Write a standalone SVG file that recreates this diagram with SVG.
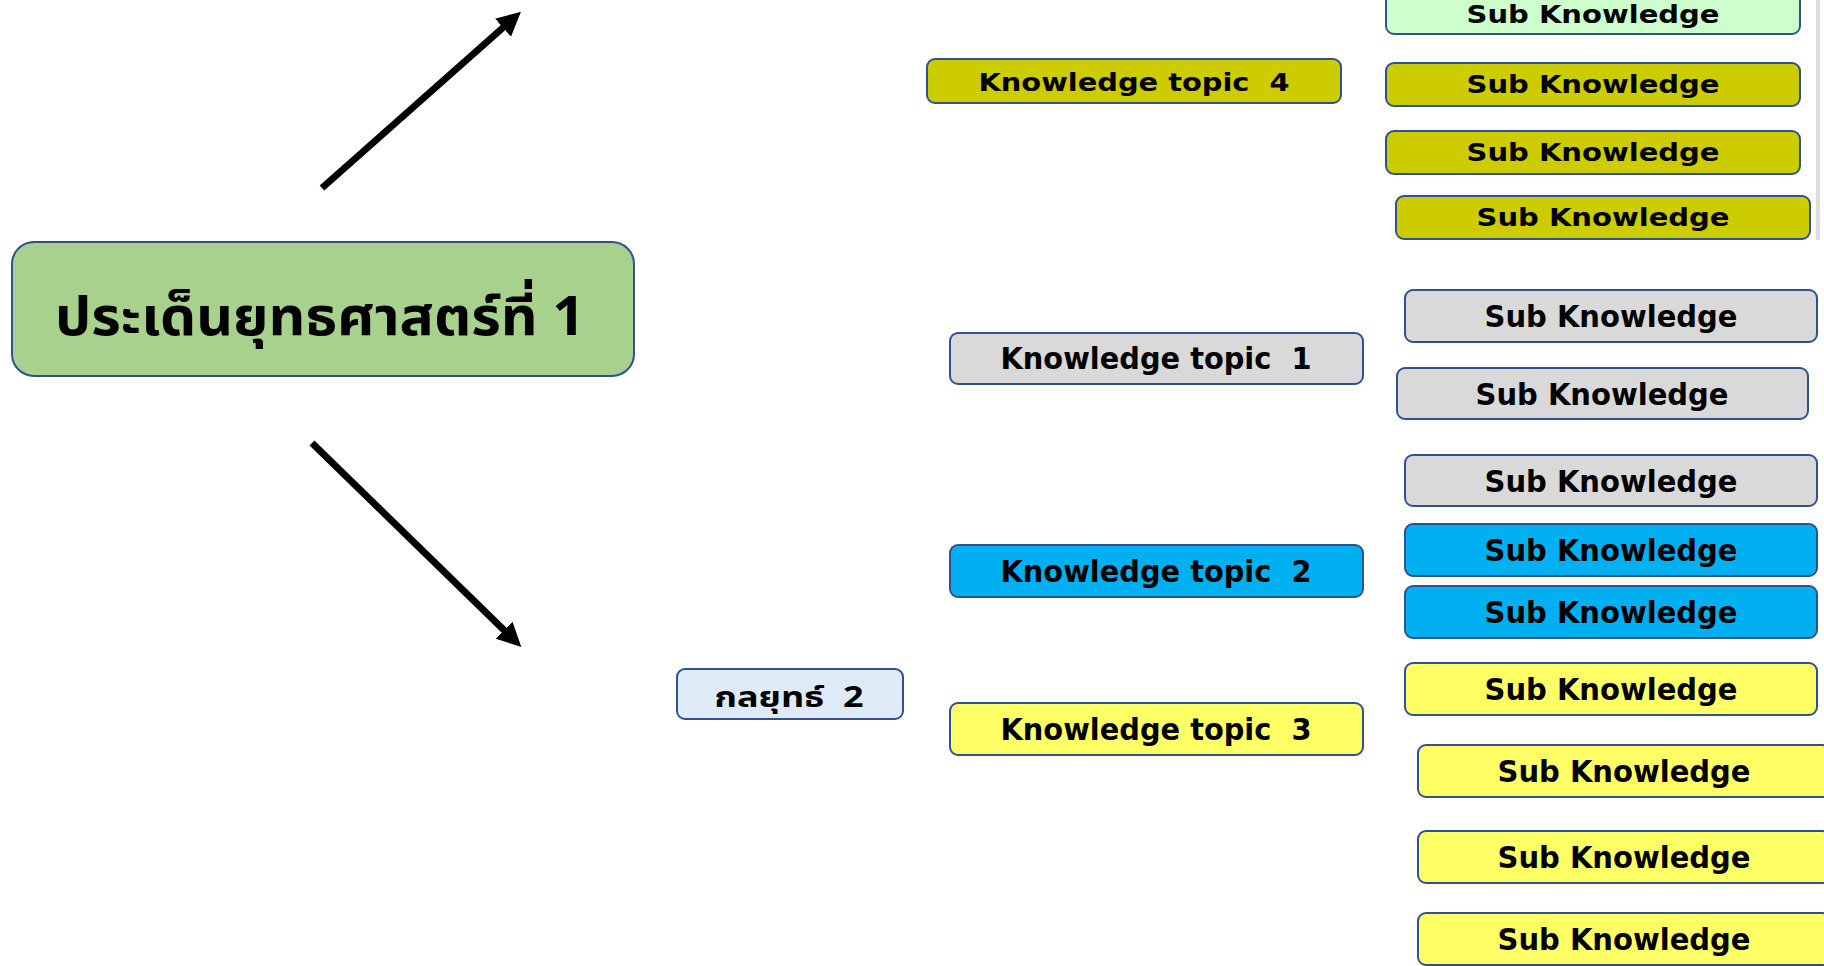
<svg xmlns="http://www.w3.org/2000/svg" width="1824" height="966" viewBox="0 0 1824 966">
  <defs>
    <marker id="head" markerUnits="userSpaceOnUse" markerWidth="30" markerHeight="30" refX="4" refY="12" orient="auto">
      <path d="M0,0 L24,12 L0,24 Z" fill="#000"/>
    </marker>
    <style>
      .box { stroke: #2F528F; stroke-width: 2; }
      .main { fill: #A9D18E; }
      .strat { fill: #DEEBF7; }
      .gray { fill: #D9D9D9; }
      .blue { fill: #00B0F0; }
      .yellow { fill: #FFFF66; }
      .olive { fill: #CCCC00; }
      .mint { fill: #CCFFCC; }
      text { font-family: "DejaVu Sans", "Liberation Sans", sans-serif; font-weight: bold; fill: #000; text-anchor: middle; white-space: pre; }
      .th { font-family: "Noto Sans Thai", "Noto Sans", "DejaVu Sans", sans-serif; }
      .t30 { font-size: 30px; }
      .t24 { font-size: 24px; }
      .conn { stroke: #000; stroke-width: 7; fill: none; }
    </style>
  </defs>
  <rect width="1824" height="966" fill="#FFFFFF"/>

  <!-- right edge strip -->
  <rect x="1816" y="0" width="4" height="240" fill="#DDDDDD"/>

  <!-- connectors -->
  <g id="connectors">
    <line class="conn" x1="322" y1="188" x2="506" y2="25" marker-end="url(#head)"/>
    <line class="conn" x1="312" y1="443" x2="507" y2="633" marker-end="url(#head)"/>
  </g>

  <!-- main issue -->
  <g id="main-issue">
    <rect class="box main" x="12" y="242" width="622" height="134" rx="22"/>
    <text class="th" x="320" y="335" font-size="54" textLength="530" lengthAdjust="spacingAndGlyphs">ประเด็นยุทธศาสตร์ที่ 1</text>
  </g>

  <!-- strategy -->
  <g id="strategy-2">
    <rect class="box strat" x="677" y="669" width="226" height="50" rx="8"/>
    <text class="th" x="789" y="707" font-size="29" textLength="149" lengthAdjust="spacingAndGlyphs">กลยุทธ์  2</text>
  </g>

  <!-- topic 4 (olive) -->
  <g id="sub-mint">
    <rect class="box mint" x="1386" y="-10" width="414" height="44" rx="8"/>
    <text class="t24" x="1593" y="23" textLength="253" lengthAdjust="spacingAndGlyphs">Sub Knowledge</text>
  </g>
  <g id="topic-4">
    <rect class="box olive" x="927" y="59" width="414" height="44" rx="8"/>
    <text class="t24" x="1134" y="91" textLength="311" lengthAdjust="spacingAndGlyphs">Knowledge topic  4</text>
  </g>
  <g id="sub-4a">
    <rect class="box olive" x="1386" y="63" width="414" height="43" rx="8"/>
    <text class="t24" x="1593" y="93" textLength="253" lengthAdjust="spacingAndGlyphs">Sub Knowledge</text>
  </g>
  <g id="sub-4b">
    <rect class="box olive" x="1386" y="131" width="414" height="43" rx="8"/>
    <text class="t24" x="1593" y="161" textLength="253" lengthAdjust="spacingAndGlyphs">Sub Knowledge</text>
  </g>
  <g id="sub-4c">
    <rect class="box olive" x="1396" y="196" width="414" height="43" rx="8"/>
    <text class="t24" x="1603" y="226" textLength="253" lengthAdjust="spacingAndGlyphs">Sub Knowledge</text>
  </g>

  <!-- topic 1 (gray) -->
  <g id="topic-1">
    <rect class="box gray" x="950" y="333" width="413" height="51" rx="8"/>
    <text class="t30" x="1156" y="369" textLength="311" lengthAdjust="spacingAndGlyphs">Knowledge topic  1</text>
  </g>
  <g id="sub-1a">
    <rect class="box gray" x="1405" y="290" width="412" height="52" rx="8"/>
    <text class="t30" x="1611" y="327" textLength="253" lengthAdjust="spacingAndGlyphs">Sub Knowledge</text>
  </g>
  <g id="sub-1b">
    <rect class="box gray" x="1397" y="368" width="411" height="51" rx="8"/>
    <text class="t30" x="1602" y="405" textLength="253" lengthAdjust="spacingAndGlyphs">Sub Knowledge</text>
  </g>
  <g id="sub-1c">
    <rect class="box gray" x="1405" y="455" width="412" height="51" rx="8"/>
    <text class="t30" x="1611" y="492" textLength="253" lengthAdjust="spacingAndGlyphs">Sub Knowledge</text>
  </g>

  <!-- topic 2 (blue) -->
  <g id="topic-2">
    <rect class="box blue" x="950" y="545" width="413" height="52" rx="8"/>
    <text class="t30" x="1156" y="582" textLength="311" lengthAdjust="spacingAndGlyphs">Knowledge topic  2</text>
  </g>
  <g id="sub-2a">
    <rect class="box blue" x="1405" y="524" width="412" height="52" rx="8"/>
    <text class="t30" x="1611" y="561" textLength="253" lengthAdjust="spacingAndGlyphs">Sub Knowledge</text>
  </g>
  <g id="sub-2b">
    <rect class="box blue" x="1405" y="586" width="412" height="52" rx="8"/>
    <text class="t30" x="1611" y="623" textLength="253" lengthAdjust="spacingAndGlyphs">Sub Knowledge</text>
  </g>

  <!-- topic 3 (yellow) -->
  <g id="topic-3">
    <rect class="box yellow" x="950" y="703" width="413" height="52" rx="8"/>
    <text class="t30" x="1156" y="740" textLength="311" lengthAdjust="spacingAndGlyphs">Knowledge topic  3</text>
  </g>
  <g id="sub-3a">
    <rect class="box yellow" x="1405" y="663" width="412" height="52" rx="8"/>
    <text class="t30" x="1611" y="700" textLength="253" lengthAdjust="spacingAndGlyphs">Sub Knowledge</text>
  </g>
  <g id="sub-3b">
    <rect class="box yellow" x="1418" y="745" width="412" height="52" rx="8"/>
    <text class="t30" x="1624" y="782" textLength="253" lengthAdjust="spacingAndGlyphs">Sub Knowledge</text>
  </g>
  <g id="sub-3c">
    <rect class="box yellow" x="1418" y="831" width="412" height="52" rx="8"/>
    <text class="t30" x="1624" y="868" textLength="253" lengthAdjust="spacingAndGlyphs">Sub Knowledge</text>
  </g>
  <g id="sub-3d">
    <rect class="box yellow" x="1418" y="913" width="412" height="52" rx="8"/>
    <text class="t30" x="1624" y="950" textLength="253" lengthAdjust="spacingAndGlyphs">Sub Knowledge</text>
  </g>
</svg>
